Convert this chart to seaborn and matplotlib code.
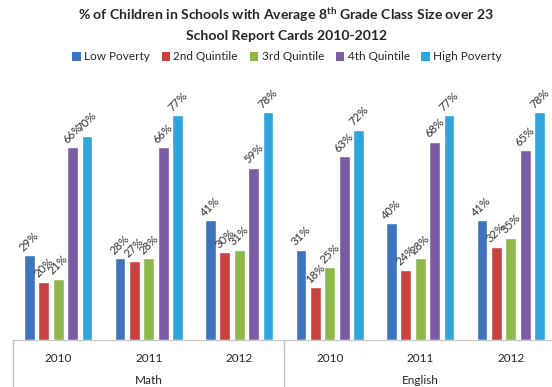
import matplotlib
matplotlib.use("Agg")
import matplotlib.pyplot as plt
import matplotlib.transforms as mtransforms
from matplotlib.patches import Patch
from matplotlib.lines import Line2D
import seaborn as sns
import pandas as pd

# Categories
subjects = ["Math", "English"]
years = ["2010", "2011", "2012"]
groups = ["Low Poverty", "2nd Quintile", "3rd Quintile", "4th Quintile", "High Poverty"]

# % of children per poverty group, Math 2010-2012 then English 2010-2012
low_poverty = [29, 28, 41, 31, 40, 41]
second_quintile = [20, 27, 30, 18, 24, 32]
third_quintile = [21, 28, 31, 25, 28, 35]
fourth_quintile = [66, 66, 59, 63, 68, 65]
high_poverty = [70, 77, 78, 72, 77, 78]

colors = ["#3D74BD", "#C8433F", "#8DB84A", "#7A5CA5", "#2FA5DC"]

series = [low_poverty, second_quintile, third_quintile, fourth_quintile, high_poverty]
categories = [f"{s} {y}" for s in subjects for y in years]
rows = []
for g, vals in zip(groups, series):
    for c, v in zip(categories, vals):
        rows.append({"category": c, "group": g, "value": v})
df = pd.DataFrame(rows)

sns.set_theme(style="white")
plt.rcParams["font.family"] = ["Lato", "DejaVu Sans"]
plt.rcParams["mathtext.fontset"] = "custom"
plt.rcParams["mathtext.rm"] = "Lato"
plt.rcParams["mathtext.bf"] = "Lato:bold"

W, H = 552, 387
fig = plt.figure(figsize=(W / 100, H / 100), dpi=100)
fig.patch.set_facecolor("white")

base_px = 340
ax = fig.add_axes([13 / W, (H - base_px) / H, 539 / W, 248 / H])

sns.barplot(data=df, x="category", y="value", hue="group", order=categories,
            hue_order=groups, palette=colors, saturation=1, width=0.8, gap=0.27,
            legend=False, ax=ax, errorbar=None)

ax.set_ylim(0, 85)
ax.set_xlim(-0.5, -0.5 + 539 / 90.5)

for container, vals in zip(ax.containers, series):
    ax.bar_label(container, labels=[f"{v}%" for v in vals], rotation=45,
                 padding=1.5, fontsize=8.2, color="#333333")

for sp in ax.spines.values():
    sp.set_visible(False)
ax.set_yticks([])
ax.set_ylabel("")
ax.set_xlabel("")
ax.set_xticks(range(len(categories)))
ax.set_xticklabels(years * len(subjects), fontsize=8.5, color="#262626")
ax.tick_params(axis="x", length=0, pad=9)
ax.axhline(0, color="#C8C8C8", lw=0.9, clip_on=False)

# Two-level category axis: subject names and separators
tr = mtransforms.blended_transform_factory(ax.transData, fig.transFigure)
for i, s in enumerate(subjects):
    fig.text(3 * i + 1, 1 - 380 / H, s, transform=tr, ha="center", va="center",
             fontsize=8.5, color="#262626")
for xpos in [-0.5, 2.5, 5.5]:
    fig.add_artist(Line2D([xpos, xpos], [0, (H - base_px) / H], transform=tr,
                          color="#BFBFBF", lw=0.9))

# Title
fig.text(0.519, 1 - 15 / H,
         r"% of Children in Schools with Average 8$^{\mathbf{th}}$ Grade Class Size over 23",
         ha="center", va="center", fontsize=10.1, fontweight="bold", color="#262626")
fig.text(0.519, 1 - 36 / H, "School Report Cards 2010-2012",
         ha="center", va="center", fontsize=10.1, fontweight="bold", color="#262626")

handles = [Patch(facecolor=c, edgecolor="none", label=g) for c, g in zip(colors, groups)]
fig.legend(handles=handles, loc="center", bbox_to_anchor=(0.52, 1 - 57 / H), ncol=5,
           frameon=False, fontsize=8.5, handlelength=0.7, handleheight=0.7,
           handletextpad=0.3, columnspacing=1.0, labelcolor="#262626")

fig.savefig("out.png", dpi=100, facecolor="white")
